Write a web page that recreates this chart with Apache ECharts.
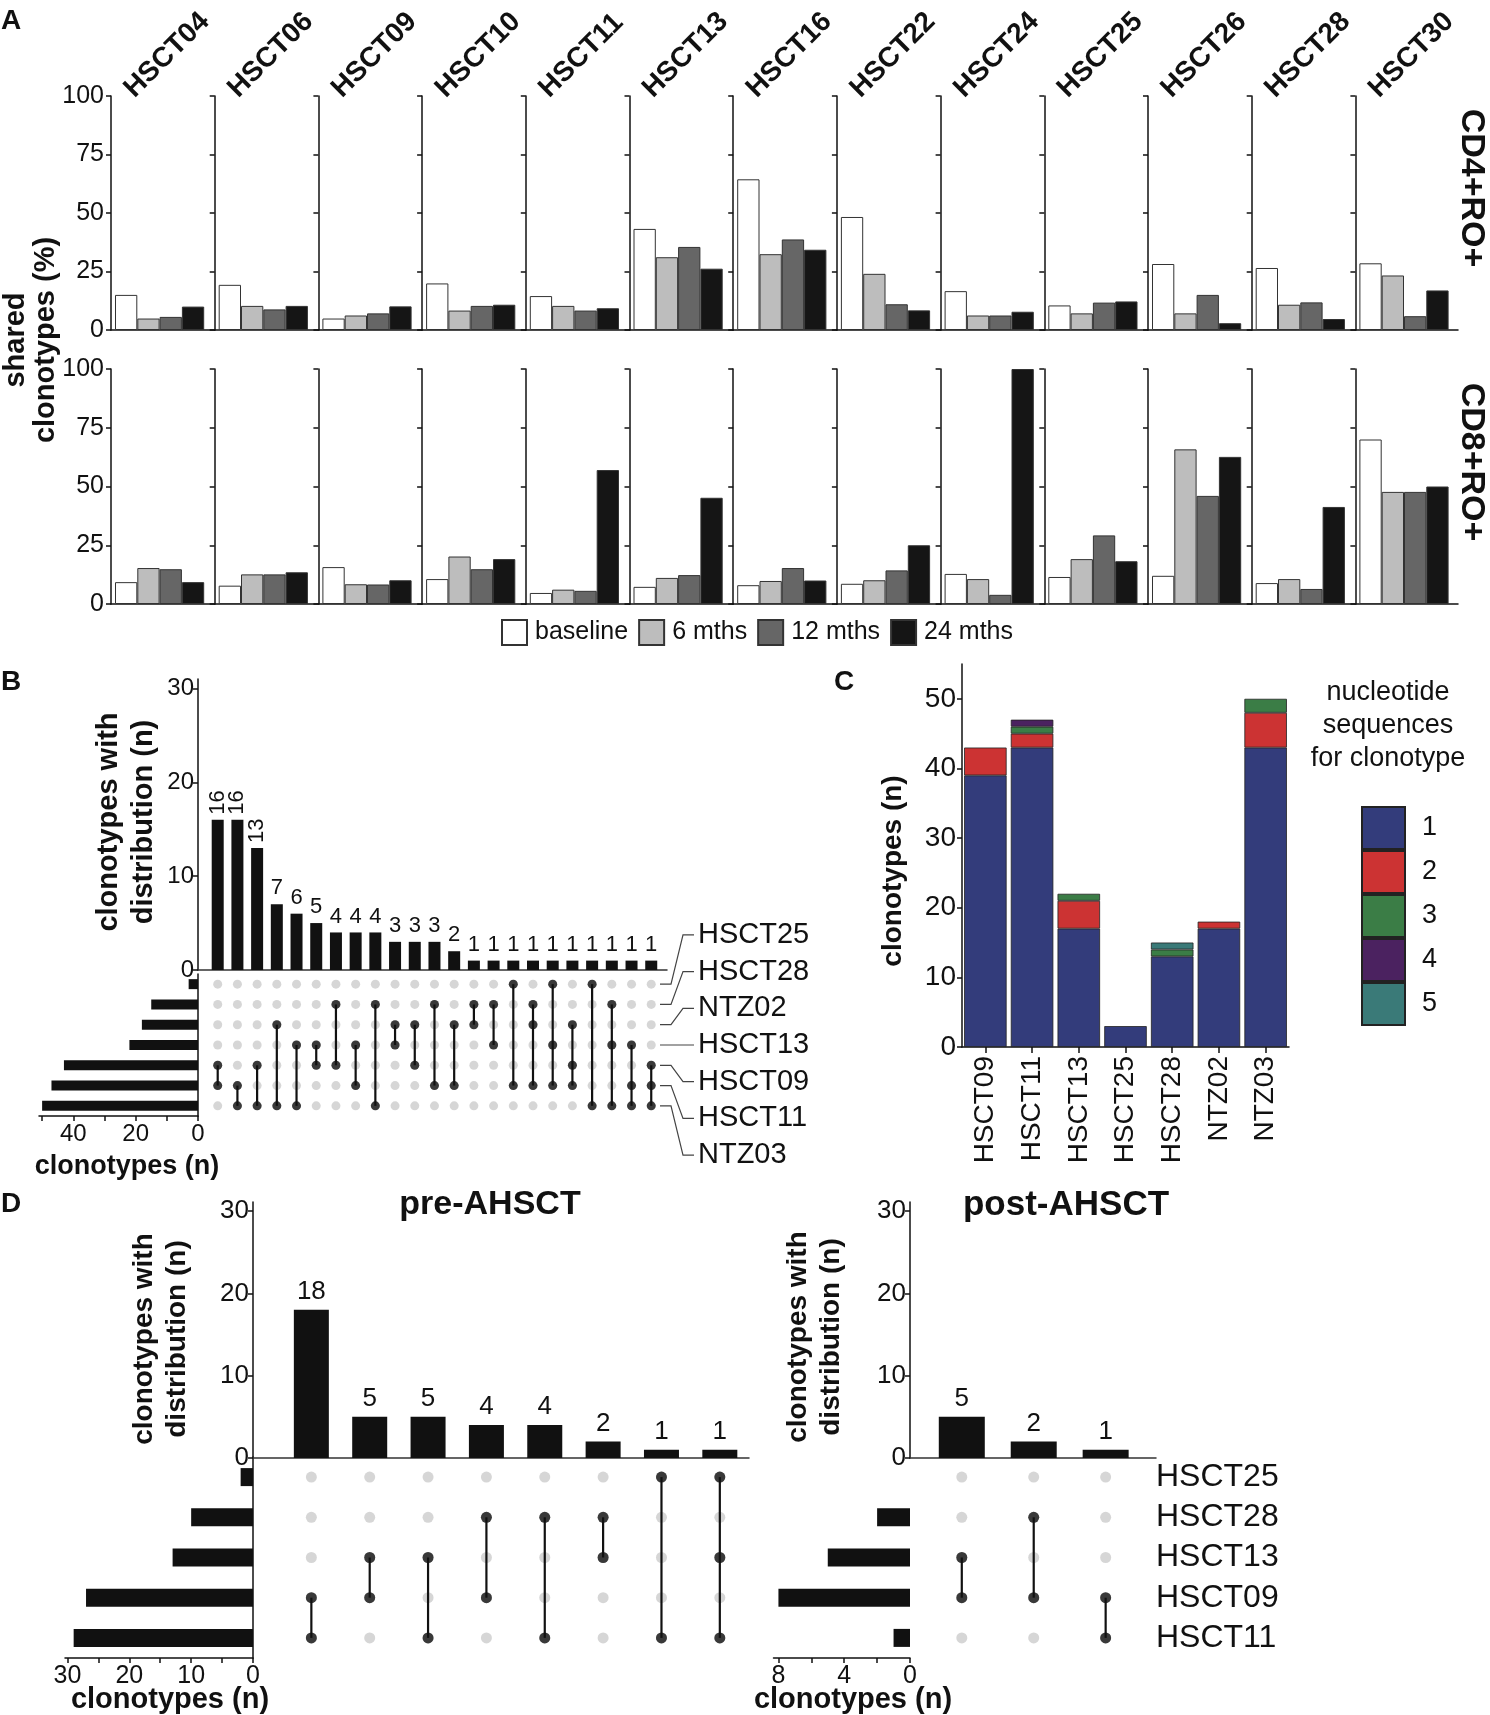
<!DOCTYPE html>
<html>
<head>
<meta charset="utf-8">
<title>shared clonotypes</title>
<script src="https://cdn.jsdelivr.net/npm/echarts@6.0.0/dist/echarts.min.js"></script>
<style>
  html, body { margin: 0; padding: 0; background: #fff; }
  #main { width: 1490px; height: 1715px; }
</style>
</head>
<body>
<div id="main"></div>
<script>
// ---------- panel A: shared clonotypes (%) ----------
const patients = ['HSCT04', 'HSCT06', 'HSCT09', 'HSCT10', 'HSCT11', 'HSCT13', 'HSCT16',
  'HSCT22', 'HSCT24', 'HSCT25', 'HSCT26', 'HSCT28', 'HSCT30'];
const timepoints = ['baseline', '6 mths', '12 mths', '24 mths'];
const cd4Baseline = [15, 19.3, 4.9, 19.9, 14.5, 43.2, 64.4, 48.3, 16.6, 10.5, 28.2, 26.5, 28.5];
const cd4Month6 = [4.9, 10.3, 6.2, 8.3, 10.3, 31.1, 32.4, 24, 6.2, 7.1, 7.1, 10.8, 23.3];
const cd4Month12 = [5.6, 8.8, 7.1, 10.3, 8.3, 35.5, 38.7, 11, 6.2, 11.7, 15, 11.8, 5.9];
const cd4Month24 = [10, 10.3, 10.1, 10.8, 9.3, 26.2, 34.3, 8.4, 7.8, 12.2, 2.9, 4.7, 16.9];
const cd8Baseline = [9.3, 7.8, 15.7, 10.6, 4.7, 7.3, 8, 8.6, 12.8, 11.5, 12, 8.9, 70];
const cd8Month6 = [15.3, 12.6, 8.4, 20.2, 6.1, 11.1, 9.8, 10.1, 10.6, 19.1, 65.8, 10.6, 47.7];
const cd8Month12 = [14.8, 12.6, 8.3, 14.8, 5.6, 12.3, 15.3, 14.3, 3.9, 29.2, 46, 6.4, 47.7];
const cd8Month24 = [9.3, 13.5, 10.1, 19.1, 57, 45.2, 10, 25, 100, 18.2, 62.6, 41.3, 50];
const pctTicks = [0, 25, 50, 75, 100];

// ---------- panel B: clonotype distribution across samples ----------
const bSets = ['HSCT25', 'HSCT28', 'NTZ02', 'HSCT13', 'HSCT09', 'HSCT11', 'NTZ03'];
const bSetSizes = [3, 15, 18, 22, 43, 47, 50];
const bCounts = [16, 16, 13, 7, 6, 5, 4, 4, 4, 3, 3, 3, 2, 1, 1, 1, 1, 1, 1, 1, 1, 1, 1];
const bMembers = [
  ['HSCT09', 'HSCT11'], ['HSCT11', 'NTZ03'], ['HSCT09', 'NTZ03'], ['NTZ02', 'NTZ03'],
  ['HSCT13', 'NTZ03'], ['HSCT13', 'HSCT09'], ['HSCT28', 'HSCT09'], ['HSCT13', 'HSCT11'],
  ['HSCT28', 'NTZ03'], ['NTZ02', 'HSCT13'], ['NTZ02', 'HSCT09'], ['HSCT28', 'HSCT11'],
  ['NTZ02', 'HSCT11'], ['HSCT28', 'NTZ02'], ['HSCT28', 'HSCT13'], ['HSCT25', 'HSCT11'],
  ['HSCT28', 'NTZ02', 'HSCT11'], ['HSCT25', 'HSCT13', 'HSCT11'], ['NTZ02', 'HSCT09', 'HSCT11'],
  ['HSCT25', 'NTZ03'], ['HSCT28', 'HSCT13', 'NTZ03'], ['HSCT13', 'HSCT11', 'NTZ03'],
  ['HSCT09', 'HSCT11', 'NTZ03']
];

// ---------- panel C: nucleotide sequences per clonotype ----------
const cSamples = ['HSCT09', 'HSCT11', 'HSCT13', 'HSCT25', 'HSCT28', 'NTZ02', 'NTZ03'];
const cSeqLevels = ['1', '2', '3', '4', '5'];
const cSeq1 = [39, 43, 17, 3, 13, 17, 43];
const cSeq2 = [4, 2, 4, 0, 0, 1, 5];
const cSeq3 = [0, 1, 1, 0, 1, 0, 2];
const cSeq4 = [0, 1, 0, 0, 0, 0, 0];
const cSeq5 = [0, 0, 0, 0, 1, 0, 0];

// ---------- panel D: pre / post AHSCT ----------
const dSets = ['HSCT25', 'HSCT28', 'HSCT13', 'HSCT09', 'HSCT11'];
const preSetSizes = [2, 10, 13, 27, 29];
const preCounts = [18, 5, 5, 4, 4, 2, 1, 1];
const preMembers = [['HSCT09', 'HSCT11'], ['HSCT13', 'HSCT09'], ['HSCT13', 'HSCT11'],
  ['HSCT28', 'HSCT09'], ['HSCT28', 'HSCT11'], ['HSCT28', 'HSCT13'], ['HSCT25', 'HSCT11'],
  ['HSCT25', 'HSCT13', 'HSCT11']];
const postSetSizes = [0, 2, 5, 8, 1];
const postCounts = [5, 2, 1];
const postMembers = [['HSCT13', 'HSCT09'], ['HSCT28', 'HSCT09'], ['HSCT09', 'HSCT11']];

const FONT = '"Liberation Sans", Arial, Helvetica, sans-serif';
const INK = '#111';
const axisStyle = { color: INK, width: 1.5 };

const grids = [], xAxes = [], yAxes = [], series = [], graphics = [];

function addGrid(g, xa, ya) {
  grids.push(g);
  xa.gridIndex = ya.gridIndex = grids.length - 1;
  xAxes.push(xa);
  yAxes.push(ya);
  return grids.length - 1;
}

function text(x, y, str, size, opts) {
  opts = opts || {};
  graphics.push({
    type: 'text', x: x, y: y, rotation: opts.rotation || 0, silent: true,
    style: {
      text: str, fontSize: size, fontWeight: opts.bold ? 'bold' : 'normal', fontFamily: FONT,
      fill: INK, align: opts.align || 'center', verticalAlign: opts.valign || 'middle',
      lineHeight: opts.lineHeight
    }
  });
}

// ---------- build panel A ----------
const aColors = ['#ffffff', '#bdbdbd', '#666666', '#151515'];
const aRows = [
  { top: 96, height: 234, values: [cd4Baseline, cd4Month6, cd4Month12, cd4Month24], label: 'CD4+RO+', labelY: 188 },
  { top: 369, height: 235, values: [cd8Baseline, cd8Month6, cd8Month12, cd8Month24], label: 'CD8+RO+', labelY: 462 }
];
const aLeft = 111, aStep = 103.7, aRight = 1458, aBarW = 22.3, aPad = 4;

aRows.forEach(row => {
  patients.forEach((p, i) => {
    const left = aLeft + i * aStep;
    const width = i === patients.length - 1 ? aRight - left : aStep;
    const xMin = -(aPad + aBarW / 2) / aBarW;
    const gi = addGrid({ left: left, top: row.top, width: width, height: row.height },
      { type: 'value', min: xMin, max: xMin + width / aBarW, axisLine: { show: true, onZero: false, lineStyle: axisStyle },
        axisTick: { show: false }, axisLabel: { show: false }, splitLine: { show: false } },
      { type: 'value', min: 0, max: 100, axisLine: { show: true, onZero: false, lineStyle: axisStyle },
        axisTick: { show: true, length: 5, lineStyle: axisStyle, customValues: pctTicks },
        axisLabel: { show: i === 0, customValues: pctTicks, fontSize: 25, color: INK, margin: 7 },
        splitLine: { show: false } });
    timepoints.forEach((t, k) => {
      series.push({
        type: 'bar', name: t, xAxisIndex: gi, yAxisIndex: gi, barWidth: aBarW, barGap: '-100%',
        data: [[k, row.values[k][i]]],
        itemStyle: { color: aColors[k], borderColor: '#333', borderWidth: 1 }
      });
    });
  });
  text(1471, row.labelY, row.label, 34, { bold: true, rotation: -Math.PI / 2 });
});
patients.forEach((p, i) => {
  text(aLeft + i * aStep + 28, 103, p, 28, { bold: true, rotation: Math.PI / 4, align: 'left', valign: 'bottom' });
});
text(31, 340, 'shared\nclonotypes (%)', 29, { bold: true, rotation: Math.PI / 2, lineHeight: 30 });

// ---------- generic upset block (panels B and D) ----------
function addUpset(u) {
  const top = addGrid({ left: u.left, top: u.top, width: u.width, height: u.barH },
    { type: 'value', min: u.xMin, max: u.xMax, axisLine: { show: true, onZero: false, lineStyle: { color: '#333', width: 1.5 } },
      axisTick: { show: false }, axisLabel: { show: false }, splitLine: { show: false } },
    { type: 'value', min: 0, max: u.yMax, axisLine: { show: true, onZero: false, lineStyle: axisStyle },
      axisTick: { show: true, length: 5, lineStyle: axisStyle, customValues: [0, 10, 20, 30] },
      axisLabel: { customValues: [0, 10, 20, 30], fontSize: u.tickFont, color: INK, margin: 4 },
      splitLine: { show: false } });
  series.push({
    type: 'bar', xAxisIndex: top, yAxisIndex: top, barWidth: u.colBarW,
    data: u.counts.map((v, i) => {
      const d = { value: [i + 1, v] };
      if (i < (u.rotated || 0)) d.label = { rotate: 90, align: 'left', verticalAlign: 'middle' };
      return d;
    }),
    itemStyle: { color: INK },
    label: { show: true, position: 'top', distance: 5, fontSize: u.countFont, color: INK, formatter: p => p.value[1] }
  });

  const mat = addGrid({ left: u.left, top: u.matTop, width: u.width, height: u.matH },
    { type: 'value', min: u.xMin, max: u.xMax, show: false },
    { type: 'category', data: u.sets, inverse: true, show: false });
  const grey = [], black = [], links = [];
  u.members.forEach((m, c) => {
    const idx = m.map(n => u.sets.indexOf(n));
    u.sets.forEach((s, r) => grey.push([c + 1, r]));
    idx.forEach(r => black.push([c + 1, r]));
    links.push([c + 1, Math.min.apply(null, idx), Math.max.apply(null, idx)]);
  });
  series.push({ type: 'scatter', xAxisIndex: mat, yAxisIndex: mat, symbolSize: u.dot, data: grey,
    itemStyle: { color: '#cccccc' }, z: 2 });
  series.push({
    type: 'custom', xAxisIndex: mat, yAxisIndex: mat, data: links, z: 3,
    renderItem: (params, api) => {
      const a = api.coord([api.value(0), api.value(1)]);
      const b = api.coord([api.value(0), api.value(2)]);
      return { type: 'line', shape: { x1: a[0], y1: a[1], x2: b[0], y2: b[1] }, style: { stroke: INK, lineWidth: 2.2 } };
    }
  });
  series.push({ type: 'scatter', xAxisIndex: mat, yAxisIndex: mat, symbolSize: u.dot, data: black,
    itemStyle: { color: INK }, z: 4 });

  const size = addGrid({ left: u.left - u.sizeW, top: u.matTop, width: u.sizeW, height: u.matH },
    { type: 'value', inverse: true, min: 0, max: u.sizeMax, axisLine: { show: true, onZero: false, lineStyle: axisStyle },
      axisTick: { show: true, length: 5, lineStyle: axisStyle, customValues: u.sizeTicks },
      axisLabel: { customValues: u.sizeLabels, fontSize: u.sizeFont, color: INK, margin: 6 },
      splitLine: { show: false } },
    { type: 'category', data: u.sets, inverse: true, position: 'right',
      axisLine: { show: u.sizeLine !== false, onZero: false, lineStyle: axisStyle }, axisTick: { show: false }, axisLabel: { show: false } });
  series.push({ type: 'bar', xAxisIndex: size, yAxisIndex: size, barWidth: u.setBarW,
    data: u.sizes.map(v => v || null), itemStyle: { color: INK } });
  return mat;
}

const bMat = addUpset({
  sets: bSets, sizes: bSetSizes, counts: bCounts, members: bMembers,
  left: 198, width: 469, xMin: 0, xMax: 23.8, top: 679, barH: 291, yMax: 31,
  matTop: 974, matH: 142, sizeW: 159, sizeMax: 51, sizeTicks: [0, 10, 20, 30, 40, 50], sizeLabels: [0, 20, 40],
  colBarW: 12, setBarW: 10, dot: 9, countFont: 22, tickFont: 24, sizeFont: 24, rotated: 3
});
text(126, 822, 'clonotypes with\ndistribution (n)', 29, { bold: true, rotation: Math.PI / 2, lineHeight: 35 });
text(127, 1167, 'clonotypes (n)', 27, { bold: true });

const preMat = addUpset({
  sets: dSets, sizes: preSetSizes, counts: preCounts, members: preMembers,
  left: 253, width: 496, xMin: 0, xMax: 8.5, top: 1202, barH: 256, yMax: 31.1,
  matTop: 1457, matH: 201, sizeW: 188, sizeMax: 30.4, sizeTicks: [0, 5, 10, 15, 20, 25, 30], sizeLabels: [0, 10, 20, 30],
  colBarW: 35, setBarW: 18, dot: 11, countFont: 26, tickFont: 26, sizeFont: 25
});
const postMat = addUpset({
  sets: dSets, sizes: postSetSizes, counts: postCounts, members: postMembers,
  left: 910, width: 246, xMin: 0.28, xMax: 3.7, top: 1202, barH: 256, yMax: 31.1,
  matTop: 1457, matH: 201, sizeW: 136.5, sizeMax: 8.3, sizeTicks: [0, 2, 4, 6, 8], sizeLabels: [0, 4, 8],
  colBarW: 46, setBarW: 18, dot: 11, countFont: 26, tickFont: 26, sizeFont: 25, sizeLine: false
});
text(490, 1205, 'pre-AHSCT', 34, { bold: true });
text(1066, 1205, 'post-AHSCT', 35, { bold: true });
text(161, 1339, 'clonotypes with\ndistribution (n)', 28, { bold: true, rotation: Math.PI / 2, lineHeight: 33 });
text(815, 1337, 'clonotypes with\ndistribution (n)', 28, { bold: true, rotation: Math.PI / 2, lineHeight: 33 });
text(170, 1700, 'clonotypes (n)', 29, { bold: true });
text(853, 1700, 'clonotypes (n)', 29, { bold: true });

// ---------- build panel C ----------
const cColors = ['#333c7b', '#cc3333', '#3b7d46', '#4b2260', '#3a7a78'];
const cStacks = [cSeq1, cSeq2, cSeq3, cSeq4, cSeq5];
const cTicks = [0, 10, 20, 30, 40, 50];
const cGrid = addGrid({ left: 962, top: 664, width: 327, height: 383 },
  { type: 'category', data: cSamples, axisLine: { show: true, lineStyle: axisStyle },
    axisTick: { show: true, alignWithLabel: true, length: 6, lineStyle: axisStyle },
    axisLabel: { rotate: 90, fontSize: 28, color: INK, margin: 9 } },
  { type: 'value', min: 0, max: 55, axisLine: { show: true, lineStyle: axisStyle },
    axisTick: { show: true, length: 5, lineStyle: axisStyle, customValues: cTicks },
    axisLabel: { customValues: cTicks, fontSize: 28, color: INK, margin: 6 }, splitLine: { show: false } });
cSeqLevels.forEach((lv, k) => {
  series.push({
    type: 'bar', name: lv, stack: 'seq', xAxisIndex: cGrid, yAxisIndex: cGrid, barCategoryGap: '9%',
    data: cStacks[k].map(v => v || null),
    itemStyle: { color: cColors[k], borderColor: '#222', borderWidth: 0.8 }
  });
});
text(1388, 726, 'nucleotide\nsequences\nfor clonotype', 27, { lineHeight: 33 });
text(893, 871, 'clonotypes (n)', 28, { bold: true, rotation: Math.PI / 2 });

// panel letters
text(11, 21, 'A', 28, { bold: true });
text(11, 682, 'B', 28, { bold: true });
text(844, 682, 'C', 28, { bold: true });
text(11, 1204, 'D', 28, { bold: true });

const chart = echarts.init(document.getElementById('main'), null, { renderer: 'canvas' });
chart.setOption({
  animation: false,
  backgroundColor: '#ffffff',
  textStyle: { fontFamily: FONT },
  grid: grids,
  xAxis: xAxes,
  yAxis: yAxes,
  legend: [
    { data: timepoints, left: 496, top: 614, icon: 'rect', itemWidth: 25, itemHeight: 25, itemGap: 10,
      selectedMode: false, textStyle: { fontSize: 25, color: INK, padding: [0, 0, 0, 3] } },
    { data: cSeqLevels, orient: 'vertical', left: 1356, top: 801, icon: 'rect', itemWidth: 43, itemHeight: 42,
      itemGap: 0, selectedMode: false, textStyle: { fontSize: 27, color: INK, padding: [0, 0, 0, 12] } }
  ],
  series: series,
  graphic: graphics
});

// row labels next to the matrices, placed from the matrix axes
const bLabelStep = 36.7;
const bMid = chart.convertToPixel({ gridIndex: bMat }, [23.8, 3])[1];
bSets.forEach((s, r) => {
  const rowY = chart.convertToPixel({ gridIndex: bMat }, [23.8, r])[1];
  const labY = bMid + (r - 3) * bLabelStep;
  graphics.push({ type: 'polyline', silent: true,
    shape: { points: [[660, rowY], [671, rowY], [683, labY], [694, labY]] },
    style: { stroke: '#444', lineWidth: 1.2, fill: null } });
  text(698, labY, s, 29, { align: 'left' });
});
dSets.forEach((s, r) => {
  const rowY = chart.convertToPixel({ gridIndex: postMat }, [3.7, r])[1];
  text(1156, rowY, s, 32, { align: 'left' });
});
chart.setOption({ graphic: graphics });
</script>
</body>
</html>
